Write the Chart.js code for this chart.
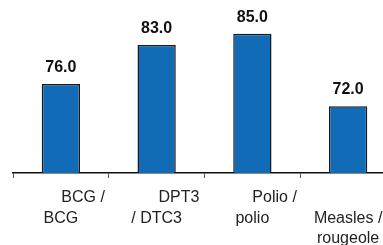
<!DOCTYPE html>
<html>
<head>
<meta charset="utf-8">
<script src="https://cdn.jsdelivr.net/npm/chart.js@4"></script>
<style>
  html, body { margin: 0; padding: 0; background: #fff; }
  #wrap { width: 383px; height: 245px; overflow: hidden; position: relative; }
  #box { width: 400px; height: 245px; }
</style>
</head>
<body>
<div id="wrap"><div id="box"><canvas id="chart"></canvas></div></div>
<script>
// labels keep the leading spaces of the original text, which push the first line right
const categories = [
  ["          BCG /", "BCG"],
  ["          DPT3", "/ DTC3"],
  ["          Polio /", "polio"],
  ["          ", "Measles /", "rougeole"]
];
const coverage = [76.0, 83.0, 85.0, 72.0];
const yMin = 60;
const yMax = 90;

// value labels above the bars
const valueLabels = {
  id: "valueLabels",
  afterDatasetsDraw(chart) {
    const ctx = chart.ctx;
    const meta = chart.getDatasetMeta(0);
    ctx.save();
    ctx.font = "bold 16px 'Liberation Sans', Arial, sans-serif";
    ctx.fillStyle = "#111";
    ctx.textAlign = "center";
    ctx.textBaseline = "alphabetic";
    meta.data.forEach((bar, i) => {
      ctx.fillText(coverage[i].toFixed(1), bar.x, bar.y - 12);
    });
    ctx.restore();
  }
};

new Chart(document.getElementById("chart"), {
  type: "bar",
  data: {
    labels: categories,
    datasets: [{
      data: coverage,
      backgroundColor: "#116bb7",
      borderColor: "#1a1a1a",
      borderWidth: 1.5,
      categoryPercentage: 1,
      barPercentage: 0.4
    }]
  },
  options: {
    responsive: true,
    maintainAspectRatio: false,
    animation: false,
    layout: { padding: { left: 13, right: 4, top: 6, bottom: 0 } },
    plugins: { legend: { display: false }, tooltip: { enabled: false } },
    scales: {
      x: {
        offset: true,
        afterFit(scale) { scale.height = 72; },
        border: { display: true, color: "#111", width: 1.5 },
        grid: {
          offset: true,
          drawOnChartArea: false,
          drawTicks: true,
          tickLength: 5,
          color: "#555",
          lineWidth: 1
        },
        ticks: {
          color: "#222",
          padding: 9,
          maxRotation: 0,
          autoSkip: false,
          font: { family: "'Liberation Sans', Arial, sans-serif", size: 16, lineHeight: 1.3 }
        }
      },
      y: {
        display: false,
        min: yMin,
        max: yMax
      }
    }
  },
  plugins: [valueLabels]
});
</script>
</body>
</html>
